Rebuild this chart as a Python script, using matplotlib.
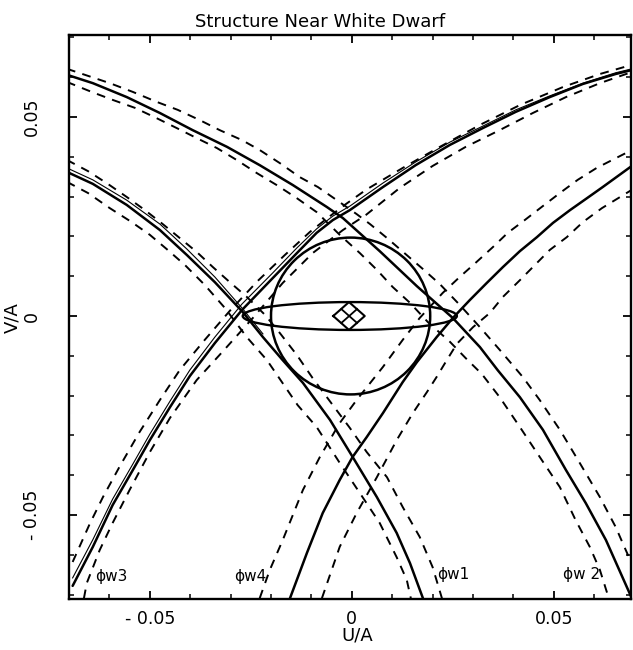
import matplotlib
matplotlib.use("Agg")
import matplotlib.pyplot as plt
from matplotlib.patches import Circle, Ellipse
from matplotlib.ticker import MultipleLocator

plt.rcParams['font.family'] = ['DejaVu Sans']

# ---------------- data (U/A, V/A) ----------------
# phi_w3 family (rising from lower left to upper right)
w3_solid_u = [-0.0691, -0.0641, -0.0592, -0.0542, -0.0500, -0.0450, -0.0401, -0.0339, -0.0272, -0.0196,
              -0.0136, -0.0087, -0.0047, -0.0005, 0.0077, 0.0158, 0.0243, 0.0324, 0.0406, 0.0490,
              0.0572, 0.0653, 0.0693]
w3_solid_v = [-0.0678, -0.0580, -0.0475, -0.0387, -0.0312, -0.0229, -0.0151, -0.0068, 0.0015, 0.0095,
              0.0158, 0.0209, 0.0241, 0.0266, 0.0324, 0.0379, 0.0430, 0.0472, 0.0513, 0.0550,
              0.0583, 0.0608, 0.0618]
w3_thin_u = w3_solid_u
w3_thin_v = [-0.0658, -0.0562, -0.0460, -0.0372, -0.0297, -0.0214, -0.0136, -0.0053, 0.0030, 0.0108,
             0.0171, 0.0219, 0.0251, 0.0276, 0.0334, 0.0387, 0.0437, 0.0477, 0.0518, 0.0553,
             0.0585, 0.0611, 0.0621]
w3_dash1_u = [-0.0691, -0.0649, -0.0616, -0.0574, -0.0525, -0.0475, -0.0426, -0.0364, -0.0302, -0.0233,
              -0.0166, -0.0104, -0.0054, -0.0015, 0.0035, 0.0126, 0.0218, 0.0317, 0.0416, 0.0522,
              0.0614, 0.0693]
w3_dash1_v = [-0.0618, -0.0523, -0.0455, -0.0377, -0.0291, -0.0211, -0.0136, -0.0060, 0.0013, 0.0088,
              0.0153, 0.0211, 0.0251, 0.0281, 0.0317, 0.0372, 0.0425, 0.0480, 0.0530, 0.0575,
              0.0608, 0.0631]
w3_dash2_u = [-0.0663, -0.0656, -0.0624, -0.0592, -0.0550, -0.0500, -0.0450, -0.0384, -0.0314, -0.0245,
              -0.0171, -0.0097, -0.0022, 0.0035, 0.0119, 0.0200, 0.0282, 0.0366, 0.0448, 0.0530,
              0.0614, 0.0693]
w3_dash2_v = [-0.0709, -0.0671, -0.0588, -0.0520, -0.0437, -0.0342, -0.0256, -0.0161, -0.0083, -0.0005,
              0.0083, 0.0158, 0.0216, 0.0254, 0.0322, 0.0377, 0.0425, 0.0467, 0.0510, 0.0550,
              0.0585, 0.0613]

# phi_w4 family (rising from bottom centre to the right)
w4_solid_u = [-0.0153, -0.0111, -0.0072, -0.0030, 0.0002, 0.0037, 0.0077, 0.0126, 0.0161, 0.0210,
              0.0250, 0.0292, 0.0334, 0.0374, 0.0416, 0.0458, 0.0498, 0.0540, 0.0582, 0.0621, 0.0693]
w4_solid_v = [-0.0709, -0.0595, -0.0495, -0.0412, -0.0354, -0.0304, -0.0244, -0.0166, -0.0116, -0.0053,
              -0.0005, 0.0040, 0.0083, 0.0123, 0.0163, 0.0198, 0.0234, 0.0266, 0.0296, 0.0324, 0.0377]
w4_dash1_u = [-0.0228, -0.0203, -0.0171, -0.0121, -0.0079, -0.0030, 0.0012, 0.0077, 0.0126, 0.0168,
              0.0225, 0.0267, 0.0309, 0.0349, 0.0386, 0.0428, 0.0470, 0.0515, 0.0559, 0.0606, 0.0693]
w4_dash1_v = [-0.0709, -0.0638, -0.0563, -0.0437, -0.0354, -0.0269, -0.0211, -0.0128, -0.0060, -0.0005,
              0.0058, 0.0098, 0.0136, 0.0173, 0.0209, 0.0241, 0.0274, 0.0309, 0.0342, 0.0372, 0.0417]
w4_dash2_u = [-0.0074, -0.0030, 0.0012, 0.0062, 0.0111, 0.0151, 0.0186, 0.0210, 0.0235, 0.0260,
              0.0300, 0.0342, 0.0374, 0.0416, 0.0453, 0.0490, 0.0532, 0.0572, 0.0619, 0.0693]
w4_dash2_v = [-0.0709, -0.0580, -0.0495, -0.0405, -0.0312, -0.0244, -0.0191, -0.0153, -0.0111, -0.0070,
              -0.0028, 0.0008, 0.0048, 0.0090, 0.0128, 0.0166, 0.0198, 0.0236, 0.0271, 0.0317]

# phi_w2 family (falling from upper left to lower right)
w2_solid_u = [-0.0705, -0.0641, -0.0557, -0.0475, -0.0394, -0.0309, -0.0228, -0.0146, -0.0062, -0.0022,
              0.0069, 0.0161, 0.0250, 0.0317, 0.0361, 0.0416, 0.0473, 0.0530, 0.0579, 0.0629, 0.0693]
w2_solid_v = [0.0606, 0.0585, 0.0550, 0.0510, 0.0467, 0.0425, 0.0379, 0.0329, 0.0274, 0.0246,
              0.0163, 0.0075, -0.0005, -0.0078, -0.0136, -0.0204, -0.0286, -0.0387, -0.0470, -0.0563, -0.0709]
w2_dash1_u = [-0.0705, -0.0599, -0.0542, -0.0483, -0.0431, -0.0376, -0.0327, -0.0272, -0.0228, -0.0178,
              -0.0129, -0.0084, -0.0030, 0.0012, 0.0045, 0.0087, 0.0136, 0.0176, 0.0218, 0.0267,
              0.0317, 0.0366, 0.0423, 0.0465, 0.0515, 0.0564, 0.0614, 0.0653, 0.0678, 0.0700]
w2_dash1_v = [0.0621, 0.0585, 0.0563, 0.0538, 0.0518, 0.0492, 0.0467, 0.0442, 0.0417, 0.0384,
              0.0349, 0.0324, 0.0286, 0.0256, 0.0231, 0.0196, 0.0153, 0.0118, 0.0080, 0.0028,
              -0.0028, -0.0085, -0.0153, -0.0211, -0.0286, -0.0369, -0.0455, -0.0530, -0.0588, -0.0638]
w2_dash2_u = [-0.0705, -0.0644, -0.0592, -0.0537, -0.0483, -0.0433, -0.0384, -0.0334, -0.0285, -0.0235,
              -0.0186, -0.0136, -0.0087, -0.0030, 0.0020, 0.0062, 0.0101, 0.0144, 0.0188, 0.0243,
              0.0282, 0.0322, 0.0366, 0.0416, 0.0465, 0.0515, 0.0554, 0.0589, 0.0614, 0.0636]
w2_dash2_v = [0.0588, 0.0563, 0.0543, 0.0523, 0.0497, 0.0472, 0.0447, 0.0422, 0.0392, 0.0359,
              0.0329, 0.0296, 0.0261, 0.0204, 0.0158, 0.0116, 0.0073, 0.0033, -0.0015, -0.0065,
              -0.0106, -0.0146, -0.0204, -0.0279, -0.0354, -0.0430, -0.0513, -0.0580, -0.0638, -0.0709]

# phi_w1 family (falling from left edge to bottom centre)
w1_solid_u = [-0.0705, -0.0641, -0.0557, -0.0475, -0.0408, -0.0339, -0.0270, -0.0220, -0.0171, -0.0121,
              -0.0054, 0.0002, 0.0062, 0.0111, 0.0144, 0.0176]
w1_solid_v = [0.0362, 0.0332, 0.0279, 0.0216, 0.0153, 0.0085, 0.0010, -0.0053, -0.0111, -0.0168,
              -0.0261, -0.0354, -0.0455, -0.0545, -0.0621, -0.0709]
w1_thin_u = [-0.0705, -0.0641, -0.0557, -0.0475, -0.0408, -0.0339, -0.0270, -0.0220]
w1_thin_v = [0.0372, 0.0342, 0.0291, 0.0231, 0.0168, 0.0098, 0.0018, -0.0045]
w1_dash1_u = [-0.0705, -0.0653, -0.0604, -0.0557, -0.0512, -0.0468, -0.0426, -0.0384, -0.0344, -0.0302,
              -0.0260, -0.0215, -0.0178, -0.0136, -0.0097, -0.0047, -0.0005, 0.0037, 0.0087, 0.0126,
              0.0168, 0.0200, 0.0223]
w1_dash1_v = [0.0392, 0.0364, 0.0332, 0.0299, 0.0266, 0.0231, 0.0196, 0.0161, 0.0123, 0.0085,
              0.0048, 0.0003, -0.0043, -0.0098, -0.0156, -0.0224, -0.0281, -0.0342, -0.0405, -0.0480,
              -0.0555, -0.0631, -0.0709]
w1_dash2_u = [-0.0705, -0.0653, -0.0599, -0.0545, -0.0500, -0.0458, -0.0413, -0.0364, -0.0314, -0.0260,
              -0.0210, -0.0173, -0.0134, -0.0087, -0.0030, 0.0020, 0.0069, 0.0111, 0.0136, 0.0146]
w1_dash2_v = [0.0337, 0.0309, 0.0271, 0.0236, 0.0204, 0.0168, 0.0128, 0.0078, 0.0020, -0.0053,
              -0.0111, -0.0166, -0.0224, -0.0279, -0.0369, -0.0445, -0.0520, -0.0606, -0.0663, -0.0709]

# white dwarf circle, disc ellipse, central diamond
wd_center = (-0.0003, 0.0)
wd_radius = 0.0197
disc_center = (-0.0005, 0.0)
disc_width = 0.0530
disc_height = 0.0070
diamond_u = [-0.0046, -0.0007, 0.0032, -0.0007, -0.0046]
diamond_v = [0.0000, 0.0035, 0.0000, -0.0035, 0.0000]
diamond_cross1_u = [-0.0026, 0.0013]
diamond_cross1_v = [0.00175, -0.00175]
diamond_cross2_u = [-0.0026, 0.0013]
diamond_cross2_v = [-0.00175, 0.00175]

phase_labels = ["\u03d5w3", "\u03d5w4", "\u03d5w1", "\u03d5w 2"]
phase_label_u = [-0.0636, -0.0292, 0.0212, 0.0522]
phase_label_v = [-0.0655, -0.0655, -0.0650, -0.0650]

xtick_vals = [-0.05, 0.0, 0.05]
xtick_labels = ["- 0.05", "0", "0.05"]
ytick_vals = [-0.05, 0.0, 0.05]
ytick_labels = ["- 0.05", "0", "0.05"]

# ---------------- figure ----------------
fig = plt.figure(figsize=(6.33, 6.50), dpi=100)
ax = fig.add_axes([69 / 633, 1 - 599 / 650, 562 / 633, 564 / 650])
ax.set_xlim(-0.0700, 0.0691)
ax.set_ylim(-0.0711, 0.0706)

solid_kw = dict(color='black', lw=1.8, solid_capstyle='round', solid_joinstyle='round')
thin_kw = dict(color='black', lw=0.8)
dash_kw = dict(color='black', lw=1.4, linestyle=(0, (4.5, 3.8)), dash_capstyle='butt')

ax.plot(w3_solid_u, w3_solid_v, **solid_kw)
ax.plot(w3_thin_u, w3_thin_v, **thin_kw)
ax.plot(w3_dash1_u, w3_dash1_v, **dash_kw)
ax.plot(w3_dash2_u, w3_dash2_v, **dash_kw)

ax.plot(w4_solid_u, w4_solid_v, **solid_kw)
ax.plot(w4_dash1_u, w4_dash1_v, **dash_kw)
ax.plot(w4_dash2_u, w4_dash2_v, **dash_kw)

ax.plot(w2_solid_u, w2_solid_v, **solid_kw)
ax.plot(w2_dash1_u, w2_dash1_v, **dash_kw)
ax.plot(w2_dash2_u, w2_dash2_v, **dash_kw)

ax.plot(w1_solid_u, w1_solid_v, **solid_kw)
ax.plot(w1_thin_u, w1_thin_v, **thin_kw)
ax.plot(w1_dash1_u, w1_dash1_v, **dash_kw)
ax.plot(w1_dash2_u, w1_dash2_v, **dash_kw)

ax.add_patch(Circle(wd_center, wd_radius, fill=False, ec='black', lw=1.8))
ax.add_patch(Ellipse(disc_center, disc_width, disc_height, fill=False, ec='black', lw=1.7))
ax.plot(diamond_u, diamond_v, color='black', lw=1.5)
ax.plot(diamond_cross1_u, diamond_cross1_v, color='black', lw=1.3)
ax.plot(diamond_cross2_u, diamond_cross2_v, color='black', lw=1.3)

for txt, u, v in zip(phase_labels, phase_label_u, phase_label_v):
    ax.text(u, v, txt, fontsize=11, ha='left', va='center', color='black')

# ticks
ax.set_xticks(xtick_vals)
ax.set_xticklabels(xtick_labels)
ax.set_yticks(ytick_vals)
ax.set_yticklabels(ytick_labels, rotation=90, va='center')
ax.xaxis.set_minor_locator(MultipleLocator(0.01))
ax.yaxis.set_minor_locator(MultipleLocator(0.01))
ax.tick_params(which='both', direction='in', top=True, right=True, color='black')
ax.tick_params(which='major', length=6, width=1.3, labelsize=12.5)
ax.tick_params(which='minor', length=3.5, width=1.1)
ax.tick_params(axis='x', which='major', pad=8)
ax.tick_params(axis='y', which='major', pad=20)
for s in ax.spines.values():
    s.set_linewidth(1.7)

fig.text(320 / 633, 1 - 27 / 650, "Structure Near White Dwarf", ha='center', va='baseline', fontsize=13)
fig.text(357 / 633, 1 - 636 / 650, "U/A", ha='center', va='center', fontsize=13)
fig.text(12 / 633, 1 - 318 / 650, "V/A", ha='center', va='center', rotation=90, fontsize=13)

fig.savefig("out.png", dpi=100)
